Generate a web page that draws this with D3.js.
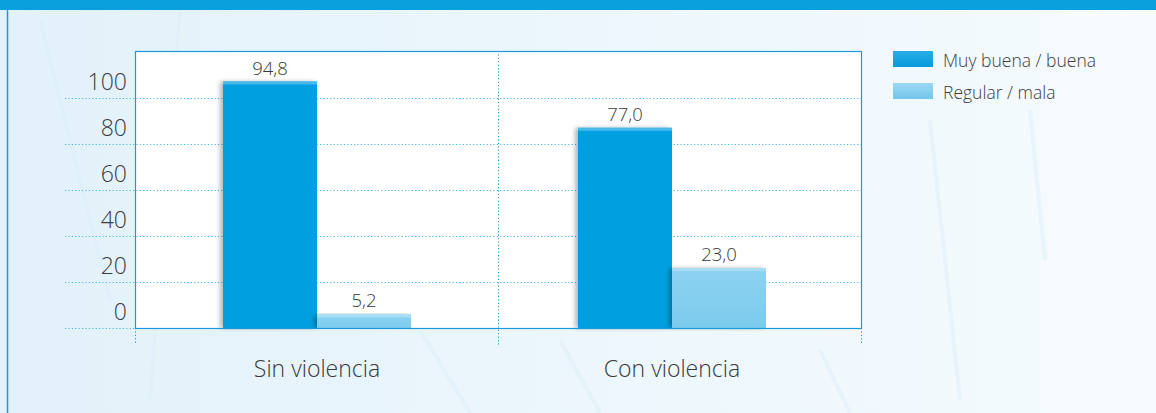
<!DOCTYPE html>
<html>
<head>
<meta charset="utf-8">
<script src="https://cdn.jsdelivr.net/npm/d3@7/dist/d3.min.js"></script>
<style>
  html, body { margin: 0; padding: 0; background: #ffffff; }
  svg { display: block; }
  text { font-family: "Open Sans", "Noto Sans", sans-serif; font-weight: 300; }
</style>
</head>
<body>
<svg id="chart" width="1156" height="413"></svg>
<script>
// ---- data ----
const categories = ["Sin violencia", "Con violencia"];
const seriesNames = ["Muy buena / buena", "Regular / mala"];
const muyBuena = [94.8, 77.0];
const regularMala = [5.2, 23.0];
const valueLabels = [["94,8", "5,2"], ["77,0", "23,0"]];
const yTicks = [0, 20, 40, 60, 80, 100];

const seriesValues = [muyBuena, regularMala];

// ---- layout ----
const W = 1156, H = 413;
const plot = { left: 135, right: 861, top: 51, bottom: 328 };

const svg = d3.select("#chart");
const defs = svg.append("defs");

const bg = defs.append("linearGradient").attr("id", "bg").attr("x1", 0).attr("x2", 1).attr("y1", 0).attr("y2", 0);
bg.append("stop").attr("offset", "0%").attr("stop-color", "#e2f1fa");
bg.append("stop").attr("offset", "45%").attr("stop-color", "#ebf6fc");
bg.append("stop").attr("offset", "100%").attr("stop-color", "#f6fbfe");

const g1 = defs.append("linearGradient").attr("id", "gDark").attr("x1", 0).attr("x2", 0).attr("y1", 0).attr("y2", 1);
g1.append("stop").attr("offset", "0%").attr("stop-color", "#049fe0");
g1.append("stop").attr("offset", "100%").attr("stop-color", "#049fe0");
const g2 = defs.append("linearGradient").attr("id", "gLight").attr("x1", 0).attr("x2", 0).attr("y1", 0).attr("y2", 1);
g2.append("stop").attr("offset", "0%").attr("stop-color", "#8dd2f0");
g2.append("stop").attr("offset", "100%").attr("stop-color", "#7dcbee");
const lg1 = defs.append("linearGradient").attr("id", "lgDark").attr("x1", 0).attr("x2", 0).attr("y1", 0).attr("y2", 1);
lg1.append("stop").attr("offset", "0%").attr("stop-color", "#2aaee6");
lg1.append("stop").attr("offset", "100%").attr("stop-color", "#0599dc");
const lg2 = defs.append("linearGradient").attr("id", "lgLight").attr("x1", 0).attr("x2", 0).attr("y1", 0).attr("y2", 1);
lg2.append("stop").attr("offset", "0%").attr("stop-color", "#9ad7f2");
lg2.append("stop").attr("offset", "100%").attr("stop-color", "#74c6ec");
const fills = ["url(#gDark)", "url(#gLight)"];
const legendFills = ["url(#lgDark)", "url(#lgLight)"];

const shadow = defs.append("filter").attr("id", "shadow").attr("x", "-20%").attr("y", "-5%").attr("width", "140%").attr("height", "110%");
shadow.append("feDropShadow").attr("dx", -3).attr("dy", 0).attr("stdDeviation", 2)
  .attr("flood-color", "#000").attr("flood-opacity", 0.28);

svg.append("rect").attr("width", W).attr("height", H).attr("fill", "url(#bg)");
const streaks = [[40, 20, 110, 300], [180, 10, 150, 400], [420, 330, 470, 413], [930, 120, 960, 400], [1030, 110, 1045, 260], [560, 340, 600, 413], [820, 350, 850, 413]];
svg.append("g").selectAll("line").data(streaks).join("line")
  .attr("x1", d => d[0]).attr("y1", d => d[1]).attr("x2", d => d[2]).attr("y2", d => d[3])
  .attr("stroke", "#dcedf8").attr("stroke-width", 4).attr("opacity", 0.45);

svg.append("rect").attr("x", 0).attr("y", 0).attr("width", W).attr("height", 10).attr("fill", "#0a9fdd");
svg.append("line").attr("x1", 7.5).attr("x2", 7.5).attr("y1", 10).attr("y2", H).attr("stroke", "#1a9ad6").attr("stroke-width", 1.5);

svg.append("rect").attr("x", plot.left).attr("y", plot.top)
  .attr("width", plot.right - plot.left).attr("height", plot.bottom - plot.top).attr("fill", "#ffffff");

// ---- scales ----
const gridY = d3.scaleLinear().domain([0, 100]).range([plot.bottom, 98]);
const barY = d3.scaleLinear().domain([0, 100]).range([plot.bottom, 68]);
const band = d3.scaleBand().domain(categories).range([plot.left, plot.right]);
const x0 = d3.scalePoint().domain(categories).range([317, 672]);
const x1 = d3.scaleBand().domain(seriesNames).range([-94, 94]);

svg.append("g").selectAll("line").data(yTicks).join("line")
  .attr("x1", 65).attr("x2", plot.right)
  .attr("y1", d => Math.round(gridY(d)) + 0.5).attr("y2", d => Math.round(gridY(d)) + 0.5)
  .attr("stroke", "#45b8ea").attr("stroke-width", 1).attr("stroke-dasharray", "1.2,2.2");

const divs = [plot.left, band(categories[1]), plot.right];
svg.append("g").selectAll("line").data(divs).join("line")
  .attr("x1", d => Math.round(d) + 0.5).attr("x2", d => Math.round(d) + 0.5)
  .attr("y1", (d, i) => i === 1 ? plot.top : plot.bottom).attr("y2", 345)
  .attr("stroke", "#1a9ad6").attr("stroke-width", 1).attr("stroke-dasharray", "1.2,2.2");

svg.append("g").selectAll("text").data(yTicks).join("text")
  .attr("x", 127).attr("y", d => gridY(d) - 8)
  .attr("text-anchor", "end").attr("font-size", 23).attr("fill", "#3c3c3c")
  .text(d => d);

const groups = svg.append("g").selectAll("g").data(categories).join("g")
  .attr("transform", c => `translate(${x0(c)},0)`);

groups.each(function (c, ci) {
  const gg = d3.select(this);
  seriesNames.forEach((s, si) => {
    const v = seriesValues[si][ci];
    gg.append("rect")
      .attr("x", x1(s)).attr("y", barY(v))
      .attr("width", x1.bandwidth()).attr("height", barY(0) - barY(v))
      .attr("fill", fills[si])
      .attr("filter", "url(#shadow)");
    gg.append("rect")
      .attr("x", x1(s)).attr("y", barY(v))
      .attr("width", x1.bandwidth()).attr("height", 3)
      .attr("fill", si === 0 ? "#4ab9ea" : "#a6dcf4");
    gg.append("text")
      .attr("x", x1(s) + x1.bandwidth() / 2).attr("y", barY(v) - 7)
      .attr("text-anchor", "middle").attr("font-size", 18.5).attr("fill", "#383838")
      .text(valueLabels[ci][si]);
  });
});

svg.append("rect").attr("x", plot.left + 0.5).attr("y", plot.top + 0.5)
  .attr("width", plot.right - plot.left).attr("height", plot.bottom - plot.top)
  .attr("fill", "none").attr("stroke", "#1a9ad6").attr("stroke-width", 1.2);

svg.append("g").selectAll("text").data(categories).join("text")
  .attr("x", c => x0(c)).attr("y", 377)
  .attr("text-anchor", "middle").attr("font-size", 23).attr("fill", "#383838")
  .text(c => c);

const legend = svg.append("g").selectAll("g").data(seriesNames).join("g")
  .attr("transform", (d, i) => `translate(893,${51 + i * 32})`);
legend.append("rect").attr("width", 40).attr("height", 16).attr("fill", (d, i) => legendFills[i]);
legend.append("text").attr("x", 50).attr("y", 16).attr("font-size", 17.5).attr("fill", "#3c3c3c").text(d => d);
</script>
</body>
</html>
